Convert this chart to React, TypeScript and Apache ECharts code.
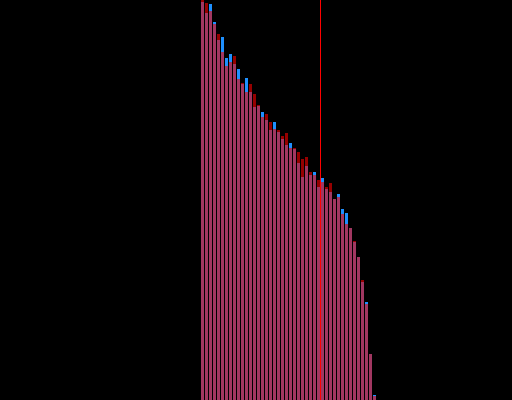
import React, { useEffect, useRef } from "react";
import * as echarts from "echarts";

const positions: number[] = Array.from({ length: 44 }, (_, i) => i);

const blueValues: number[] = [
  398, 387, 396, 378, 360, 363, 342, 346, 336, 331, 316, 322, 308, 293, 294,
  288, 280, 270, 278, 268, 261, 255, 257, 251, 237, 223, 234, 225, 228, 213,
  222, 211, 208, 201, 206, 191, 187, 172, 158, 143, 118, 98, 46, 5,
];

const redValues: number[] = [
  400, 397, 389, 376, 366, 348, 334, 338, 344, 321, 317, 308, 316, 306, 295,
  283, 286, 278, 271, 270, 264, 267, 252, 252, 248, 241, 243, 228, 225, 220,
  218, 213, 217, 201, 203, 186, 176, 172, 159, 143, 120, 96, 46, 4,
];

const markerPosition = 29.5;

export default function App() {
  const ref = useRef<HTMLDivElement>(null);

  useEffect(() => {
    if (!ref.current) return;
    const chart = echarts.init(ref.current, null, { renderer: "svg" });
    chart.setOption({
      animation: false,
      backgroundColor: "#000000",
      grid: { left: 200.5, width: 176, top: 0, bottom: 0 },
      xAxis: {
        type: "value",
        min: -0.5,
        max: 43.5,
        show: false,
        splitLine: { show: false },
      },
      yAxis: {
        type: "value",
        min: 0,
        max: 400,
        show: false,
        splitLine: { show: false },
      },
      series: [
        {
          name: "blue",
          type: "bar",
          barWidth: 3,
          barGap: "-100%",
          itemStyle: { color: "#1e90ff" },
          data: positions.map((x, i) => [x, blueValues[i]]),
        },
        {
          name: "red",
          type: "bar",
          barWidth: 3,
          barGap: "-100%",
          itemStyle: { color: "#f20000", opacity: 0.62 },
          data: positions.map((x, i) => [x, redValues[i]]),
          markLine: {
            silent: true,
            symbol: "none",
            label: { show: false },
            lineStyle: { color: "#ff0000", width: 1, type: "solid", opacity: 1 },
            data: [{ xAxis: markerPosition }],
          },
        },
      ],
    });
    return () => chart.dispose();
  }, []);

  return (
    <div
      ref={ref}
      style={{
        position: "absolute",
        left: 0,
        top: 0,
        width: 512,
        height: 400,
        background: "#000000",
      }}
    />
  );
}
